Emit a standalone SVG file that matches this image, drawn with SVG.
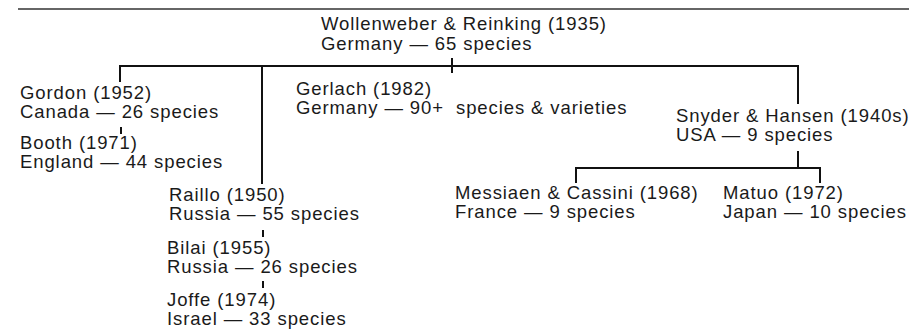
<svg xmlns="http://www.w3.org/2000/svg" width="909" height="330" viewBox="0 0 909 330">
  <style>
    .t { font-family: "Liberation Sans", Arial, sans-serif; font-size: 18.5px; letter-spacing: 0.9px; fill: #1a1a1a; }
    .c { stroke: #111; stroke-width: 2; fill: none; }
    .rule { stroke: #333; stroke-width: 1.5; }
  </style>
  <rect width="909" height="330" fill="#fff"/>
  <line class="rule" x1="18" y1="9" x2="909" y2="9"/>

  <g id="connectors">
    <path class="c" d="M120,82 V66 H798 V104"/>
    <path class="c" d="M452,58 V73"/>
    <path class="c" d="M262,66 V184"/>
    <path class="c" d="M121,127 V134"/>
    <path class="c" d="M263,230 V237"/>
    <path class="c" d="M263,281 V288"/>
    <path class="c" d="M798,151 V168"/>
    <path class="c" d="M576,183 V168 H820 V183"/>
  </g>

  <g id="wollenweber">
    <text class="t" x="321" y="30">Wollenweber &amp; Reinking (1935)<tspan x="321" dy="20">Germany — 65 species</tspan></text>
  </g>
  <g id="gordon">
    <text class="t" x="20" y="99">Gordon (1952)<tspan x="20" dy="19">Canada — 26 species</tspan></text>
  </g>
  <g id="booth">
    <text class="t" x="20" y="149">Booth (1971)<tspan x="20" dy="19">England — 44 species</tspan></text>
  </g>
  <g id="gerlach">
    <text class="t" x="296" y="95" xml:space="preserve">Gerlach (1982)<tspan x="296" dy="19">Germany — 90+  species &amp; varieties</tspan></text>
  </g>
  <g id="snyder">
    <text class="t" x="676" y="122">Snyder &amp; Hansen (1940s)<tspan x="676" dy="19">USA — 9 species</tspan></text>
  </g>
  <g id="raillo">
    <text class="t" x="169" y="201">Raillo (1950)<tspan x="169" dy="19">Russia — 55 species</tspan></text>
  </g>
  <g id="bilai">
    <text class="t" x="167" y="254">Bilai (1955)<tspan x="167" dy="19">Russia — 26 species</tspan></text>
  </g>
  <g id="joffe">
    <text class="t" x="167" y="306">Joffe (1974)<tspan x="167" dy="19">Israel — 33 species</tspan></text>
  </g>
  <g id="messiaen">
    <text class="t" x="455" y="199">Messiaen &amp; Cassini (1968)<tspan x="455" dy="19">France — 9 species</tspan></text>
  </g>
  <g id="matuo">
    <text class="t" x="723" y="199">Matuo (1972)<tspan x="723" dy="19">Japan — 10 species</tspan></text>
  </g>
</svg>
